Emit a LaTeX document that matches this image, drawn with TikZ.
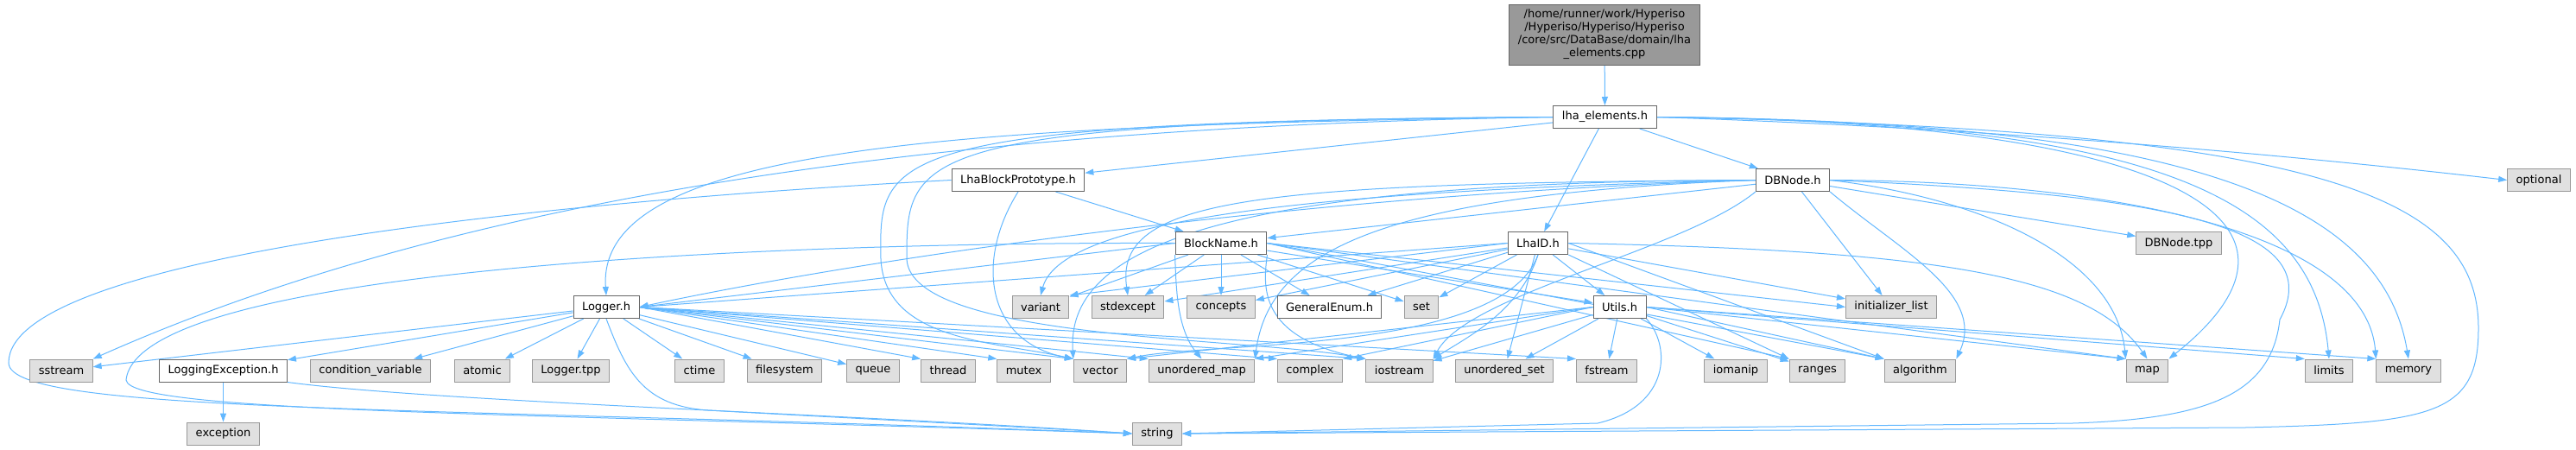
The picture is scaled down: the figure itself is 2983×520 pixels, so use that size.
\documentclass[tikz,border=0pt]{standalone}
\usepackage{fontspec}
\setmainfont{DejaVu Sans}
\usepackage{xcolor}
\usepackage{tikz}
\usetikzlibrary{arrows.meta}

\definecolor{edgeblue}{HTML}{63B8FF}
\definecolor{boxline}{HTML}{666666}
\definecolor{sysline}{HTML}{999999}
\definecolor{sysfill}{HTML}{E0E0E0}
\definecolor{rootfill}{HTML}{999999}

\pgfdeclarelayer{background}
\pgfsetlayers{background,main}

\begin{document}
\begin{tikzpicture}[
    x=1pt, y=-1pt,
    every node/.style={
        font=\fontsize{13}{15}\selectfont,
        inner xsep=10pt,
        inner ysep=0pt,
        minimum height=26pt,
        line width=1pt
    },
    hdr/.style={draw=boxline, fill=white},
    sys/.style={draw=sysline, fill=sysfill},
    rootbox/.style={draw=boxline, fill=rootfill, align=center, minimum height=70pt},
    edge/.style={draw=edgeblue, line width=1pt, -{Triangle[length=10pt,width=7pt]}}
]

\useasboundingbox (0,0) rectangle (2983,520);

% ===== Top =====
\node[rootbox] (root) at (1858,40) {/home/runner/work/Hyperiso\\/Hyperiso/Hyperiso/Hyperiso\\/core/src/DataBase/domain/lha\\\_elements.cpp};
\node[hdr] (lha) at (1858.5,135.5) {lha\_elements.h};

% ===== Second and third rows =====
\node[hdr] (lbp) at (1179,208.5) {LhaBlockPrototype.h};
\node[hdr] (dbnode) at (2076,208.5) {DBNode.h};
\node[sys] (optional) at (2940,208.5) {optional};

\node[hdr] (blockname) at (1414,281.5) {BlockName.h};
\node[hdr] (lhaid) at (1781,281.5) {LhaID.h};
\node[sys] (dbnodetpp) at (2523,281.5) {DBNode.tpp};

% ===== Fourth row =====
\node[hdr] (logger) at (702,355.5) {Logger.h};
\node[sys] (variant) at (1205,355.5) {variant};
\node[sys] (stdexcept) at (1306,355.5) {stdexcept};
\node[sys] (concepts) at (1414,355.5) {concepts};
\node[hdr] (genenum) at (1539.5,355.5) {GeneralEnum.h};
\node[sys] (set) at (1646,355.5) {set};
\node[hdr] (utils) at (1875.5,355.5) {Utils.h};
\node[sys] (initlist) at (2190,355.5) {initializer\_list};

% ===== Leaf row =====
\node[sys] (sstream) at (71,429) {sstream};
\node[hdr] (logexc) at (258.5,429) {LoggingException.h};
\node[sys] (condvar) at (429,429) {condition\_variable};
\node[sys] (atomic) at (558.5,429) {atomic};
\node[sys] (loggertpp) at (661,429) {Logger.tpp};
\node[sys] (ctime) at (810,429) {ctime};
\node[sys] (filesystem) at (908.5,429) {filesystem};
\node[sys] (queue) at (1011,429) {queue};
\node[sys] (thread) at (1098,429) {thread};
\node[sys] (mutex) at (1185.5,429) {mutex};
\node[sys] (vector) at (1274,429) {vector};
\node[sys] (umap) at (1391.5,429) {unordered\_map};
\node[sys] (complex) at (1517,429) {complex};
\node[sys] (iostream) at (1620.5,429) {iostream};
\node[sys] (uset) at (1742,429) {unordered\_set};
\node[sys] (fstream) at (1860.5,429) {fstream};
\node[sys] (iomanip) at (2010,429) {iomanip};
\node[sys] (ranges) at (2104.5,429) {ranges};
\node[sys] (algorithm) at (2223.5,429) {algorithm};
\node[sys] (map) at (2486.5,429) {map};
\node[sys] (limits) at (2697,429) {limits};
\node[sys] (memory) at (2789,429) {memory};

\node[sys] (exception) at (258.5,502) {exception};
\node[sys] (string) at (1340,502) {string};

\begin{pgfonlayer}{background}
\fill[white] (0,0) rectangle (2983,520);

% ===== Arrows: lha_elements =====
\draw[edge] (root) -- (lha);
\draw[edge] (lha) -- (lbp);
\draw[edge] (lha) -- (dbnode);
\draw[edge] (lha) -- (lhaid);
\draw[edge] (lha.east) .. controls (2350,150) and (2700,185) .. (optional.west);
\draw[edge] (lha.west) .. controls (1100,145) and (690,170) .. (logger.north);
\draw[edge] (lha.west) .. controls (1000,148) and (480,250) .. (sstream.north east);
\draw[edge] (lha.west) .. controls (1015,140) and (1018,180) .. (1020,300) .. controls (1025,395) and (1150,395) .. (vector.north west);
\draw[edge] (lha.west) .. controls (1050,140) and (1050,180) .. (1050,300) .. controls (1055,395) and (1450,390) .. (iostream.north west);
\draw[edge] (lha.east) .. controls (2500,140) and (2720,250) .. (map.north east);
\draw[edge] (lha.east) .. controls (2500,140) and (2680,230) .. (limits.north);
\draw[edge] (lha.east) .. controls (2550,140) and (2760,240) .. (memory.north);
\draw[edge] (lha.east) .. controls (2700,150) and (2870,230) .. (2870,380) .. controls (2870,480) and (2820,490) .. (2600,495) -- (string.east);

% ===== Arrows: LhaBlockPrototype =====
\draw[edge] (lbp) -- (blockname);
\draw[edge] (lbp.south) .. controls (1130,300) and (1140,395) .. (vector.north west);
\draw[edge] (lbp.west) .. controls (600,235) and (10,300) .. (10,420) .. controls (10,480) and (500,470) .. (string.west);

% ===== Arrows: DBNode =====
\draw[edge] (dbnode) -- (blockname);
\draw[edge] (dbnode) -- (dbnodetpp);
\draw[edge] (dbnode) -- (initlist);
\draw[edge] (dbnode.south east) .. controls (2200,290) and (2300,340) .. (algorithm.north east);
\draw[edge] (dbnode.east) .. controls (2300,230) and (2450,300) .. (map.north west);
\draw[edge] (dbnode.east) .. controls (2450,210) and (2740,270) .. (memory.north west);
\draw[edge] (dbnode.east) .. controls (2500,225) and (2700,260) .. (2640,370) .. controls (2630,460) and (2550,485) .. (2400,490) -- (string.east);
\draw[edge] (dbnode.west) .. controls (1500,225) and (1000,300) .. (logger.east);
\draw[edge] (dbnode.west) .. controls (1550,220) and (1230,250) .. (variant.north);
\draw[edge] (dbnode.west) .. controls (1450,212) and (1290,230) .. (stdexcept.north);
\draw[edge] (dbnode.west) .. controls (1400,210) and (1235,290) .. (vector.north west);
\draw[edge] (dbnode.west) .. controls (1600,225) and (1470,290) .. (umap.north east);
\draw[edge] (dbnode.south west) .. controls (1950,290) and (1700,340) .. (iostream.north east);

% ===== Arrows: BlockName =====
\draw[edge] (blockname) -- (variant);
\draw[edge] (blockname) -- (stdexcept);
\draw[edge] (blockname) -- (concepts);
\draw[edge] (blockname) -- (genenum);
\draw[edge] (blockname) -- (set);
\draw[edge] (blockname) -- (utils);
\draw[edge] (blockname.west) -- (logger.east);
\draw[edge] (blockname.south west) .. controls (1362,330) and (1362,380) .. (umap.north);
\draw[edge] (blockname.south east) .. controls (1463,330) and (1455,390) .. (iostream.north west);
\draw[edge] (blockname.east) -- (initlist.west);
\draw[edge] (blockname.east) -- (ranges.north west);
\draw[edge] (blockname.east) -- (algorithm.north west);
\draw[edge] (blockname.east) -- (map.north west);
\draw[edge] (blockname.west) .. controls (900,280) and (160,310) .. (146,440) .. controls (150,478) and (600,478) .. (string.west);

% ===== Arrows: LhaID =====
\draw[edge] (lhaid) -- (utils);
\draw[edge] (lhaid) -- (set);
\draw[edge] (lhaid) -- (genenum);
\draw[edge] (lhaid) -- (concepts);
\draw[edge] (lhaid) -- (stdexcept);
\draw[edge] (lhaid.west) -- (variant.north east);
\draw[edge] (lhaid.west) -- (logger.east);
\draw[edge] (lhaid) -- (uset);
\draw[edge] (lhaid) -- (initlist);
\draw[edge] (lhaid.south east) -- (ranges.north west);
\draw[edge] (lhaid.east) -- (algorithm.north west);
\draw[edge] (lhaid.east) .. controls (2250,290) and (2420,320) .. (map.north);
\draw[edge] (lhaid.south) .. controls (1740,410) and (1400,395) .. (vector.north east);
\draw[edge] (lhaid.south) .. controls (1760,360) and (1700,390) .. (iostream.north east);

% ===== Arrows: Utils =====
\draw[edge] (utils.west) -- (vector.north east);
\draw[edge] (utils.west) -- (umap.north east);
\draw[edge] (utils.west) -- (complex.north east);
\draw[edge] (utils) -- (iostream);
\draw[edge] (utils) -- (uset);
\draw[edge] (utils) -- (fstream);
\draw[edge] (utils) -- (iomanip);
\draw[edge] (utils) -- (ranges);
\draw[edge] (utils.east) -- (algorithm.north west);
\draw[edge] (utils.east) -- (map.north west);
\draw[edge] (utils.east) -- (limits.north west);
\draw[edge] (utils.east) -- (memory.north west);
\draw[edge] (utils.south east) .. controls (1935,400) and (1935,470) .. (1850,490) -- (string.east);

% ===== Arrows: Logger =====
\draw[edge] (logger) -- (sstream);
\draw[edge] (logger) -- (logexc);
\draw[edge] (logger) -- (condvar);
\draw[edge] (logger) -- (atomic);
\draw[edge] (logger) -- (loggertpp);
\draw[edge] (logger) -- (ctime);
\draw[edge] (logger) -- (filesystem);
\draw[edge] (logger) -- (queue);
\draw[edge] (logger.east) -- (thread.north west);
\draw[edge] (logger.east) -- (mutex.north west);
\draw[edge] (logger.east) -- (vector.north west);
\draw[edge] (logger.east) -- (umap.north west);
\draw[edge] (logger.east) -- (complex.north west);
\draw[edge] (logger.east) -- (iostream.north west);
\draw[edge] (logger.east) -- (fstream.north west);
\draw[edge] (logger.south) .. controls (725,430) and (745,470) .. (820,475) .. controls (1000,485) and (1200,495) .. (string.west);

% ===== Arrows: LoggingException =====
\draw[edge] (logexc) -- (exception);
\draw[edge] (logexc.south east) .. controls (500,465) and (1000,480) .. (string.west);
\end{pgfonlayer}

\end{tikzpicture}
\end{document}
